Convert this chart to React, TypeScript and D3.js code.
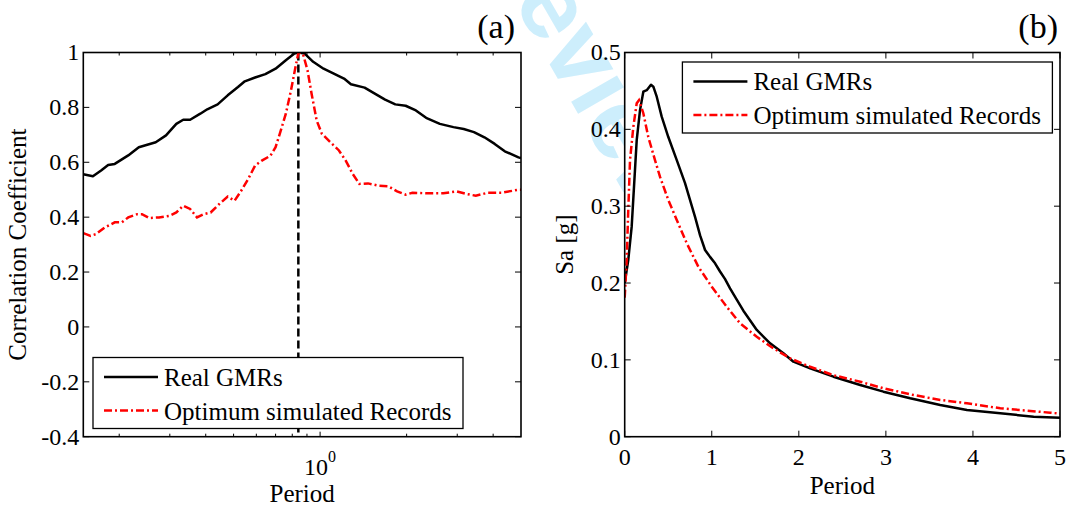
import React from "react";
import * as d3 from "d3";

// ---------- data ----------
// (a) correlation coefficient vs period (log axis)
const leftPeriodReal = [0.15,0.162,0.173,0.183,0.193,0.215,0.234,0.268,0.291,0.316,0.334,0.353,0.383,0.405,0.44,0.477,0.518,0.547,0.594,0.645,0.70,0.76,0.814,0.84,0.884,0.946,1.028,1.116,1.211,1.28,1.428,1.55,1.683,1.827,1.984,2.154,2.338,2.61,2.91,3.16,3.43,3.73,4.05,4.39,4.9,5.0];
const leftCorrReal = [0.556,0.549,0.570,0.590,0.594,0.625,0.655,0.673,0.698,0.740,0.755,0.755,0.777,0.793,0.811,0.844,0.874,0.895,0.909,0.921,0.941,0.972,0.996,1.0,0.996,0.966,0.941,0.923,0.905,0.884,0.872,0.850,0.828,0.811,0.806,0.789,0.762,0.740,0.728,0.721,0.710,0.691,0.667,0.640,0.618,0.615];
const leftPeriodSim = [0.15,0.159,0.166,0.178,0.193,0.204,0.215,0.231,0.240,0.254,0.275,0.299,0.316,0.334,0.353,0.373,0.394,0.416,0.446,0.477,0.504,0.532,0.562,0.594,0.627,0.672,0.700,0.730,0.760,0.792,0.821,0.839,0.855,0.872,0.904,0.934,0.973,1.014,1.086,1.163,1.228,1.298,1.37,1.468,1.594,1.73,1.853,1.984,2.096,2.338,2.683,2.99,3.25,3.48,3.83,4.28,4.9,5.0];
const leftCorrSim = [0.342,0.332,0.338,0.362,0.381,0.381,0.399,0.411,0.411,0.397,0.399,0.405,0.417,0.442,0.430,0.399,0.411,0.417,0.448,0.475,0.460,0.497,0.539,0.588,0.606,0.624,0.655,0.716,0.777,0.862,0.947,0.995,1.0,0.995,0.935,0.850,0.752,0.704,0.673,0.643,0.606,0.558,0.521,0.523,0.515,0.512,0.494,0.482,0.489,0.487,0.487,0.494,0.484,0.478,0.489,0.489,0.500,0.500];
const targetPeriod = 0.84;

// (b) spectral acceleration vs period
const rightPeriodReal = [0,0.041,0.080,0.118,0.138,0.176,0.214,0.253,0.302,0.329,0.368,0.425,0.501,0.598,0.693,0.808,0.866,0.923,0.980,1.038,1.095,1.153,1.210,1.268,1.363,1.517,1.670,1.823,1.938,2.130,2.398,2.705,2.972,3.279,3.624,3.931,4.314,4.697,5.0];
const rightSaReal = [0.200,0.230,0.273,0.347,0.386,0.425,0.449,0.451,0.458,0.4555,0.4425,0.4165,0.390,0.360,0.330,0.286,0.262,0.243,0.234,0.2257,0.215,0.205,0.193,0.182,0.164,0.1389,0.1216,0.1085,0.0976,0.0890,0.0781,0.0673,0.0586,0.0500,0.0413,0.0347,0.0305,0.0260,0.0245];
const rightPeriodSim = [0,0.023,0.041,0.061,0.099,0.138,0.164,0.214,0.271,0.348,0.406,0.501,0.598,0.713,0.846,1.0,1.172,1.325,1.517,1.708,1.900,2.130,2.398,2.705,2.972,3.317,3.624,3.931,4.314,4.889,5.0];
const rightSaSim = [0.181,0.230,0.295,0.360,0.403,0.434,0.438,0.421,0.390,0.360,0.338,0.308,0.282,0.2517,0.2212,0.1952,0.169,0.1476,0.130,0.115,0.102,0.091,0.080,0.0716,0.063,0.0543,0.0478,0.0435,0.037,0.0312,0.030];

const leftYTicks = [-0.4,-0.2,0,0.2,0.4,0.6,0.8,1];
const leftXMajor = [1];
const leftXMinor = [0.2,0.3,0.4,0.5,0.6,0.7,0.8,0.9,2,3,4];
const rightXTicks = [0,1,2,3,4,5];
const rightYTicks = [0,0.1,0.2,0.3,0.4,0.5];
const seriesNames = ["Real GMRs", "Optimum simulated Records"];

const FONT = "'Liberation Serif', 'Times New Roman', serif";
const RED = "#ff0000";
const DASHDOT = "8,3,2,3";
const LW = 2.5;

function zip(xs: number[], ys: number[]) {
  return xs.map((x, i) => [x, ys[i]] as [number, number]);
}

function fmt(v: number) {
  if (Math.abs(v) < 1e-9) return "0";
  return String(+v.toFixed(1));
}

export default function App() {
  const W = 1078, H = 508;
  const top = 52.5, bottom = 436.7;

  const xL = d3.scaleLog().domain([0.15, 5]).range([83.3, 521]);
  const yL = d3.scaleLinear().domain([-0.4, 1]).range([bottom, top]);
  const xR = d3.scaleLinear().domain([0, 5]).range([624.7, 1060]);
  const yR = d3.scaleLinear().domain([0, 0.5]).range([bottom, top]);

  const lineL = d3.line<[number, number]>().x(d => xL(d[0])).y(d => yL(d[1]));
  const lineR = d3.line<[number, number]>().x(d => xR(d[0])).y(d => yR(d[1]));

  const [l0, l1] = xL.range();
  const [r0, r1] = xR.range();
  const TK = 6, TKm = 3;

  const legend = (x0: number, y0: number) => (
    <g>
      <rect x={x0} y={y0} width={370} height={71} fill="#fff" stroke="#000" strokeWidth={1.3} />
      <line x1={x0 + 11} x2={x0 + 65} y1={y0 + 19.5} y2={y0 + 19.5} stroke="#000" strokeWidth={LW} />
      <text x={x0 + 71} y={y0 + 28} fontSize={25} fontFamily={FONT}>{seriesNames[0]}</text>
      <line x1={x0 + 11} x2={x0 + 65} y1={y0 + 53} y2={y0 + 53} stroke={RED} strokeWidth={LW} strokeDasharray={DASHDOT} />
      <text x={x0 + 71} y={y0 + 62} fontSize={25} fontFamily={FONT}>{seriesNames[1]}</text>
    </g>
  );

  return (
    <svg width={W} height={H} style={{ position: "absolute", left: 0, top: 0 }} fontFamily={FONT}>
      <defs>
        <clipPath id="clipL"><rect x={l0} y={top} width={l1 - l0} height={bottom - top} /></clipPath>
        <clipPath id="clipR"><rect x={r0} y={top} width={r1 - r0} height={bottom - top} /></clipPath>
        <clipPath id="clipPage"><rect x={0} y={0} width={W} height={H} /></clipPath>
      </defs>
      <rect width={W} height={H} fill="#fff" />

      {/* watermark */}
      <g clipPath="url(#clipPage)">
        <text transform="translate(476,-63) rotate(60)" fontFamily="'Liberation Sans', Arial, sans-serif"
          fontWeight="bold" fontSize={100} fill="#cdeefc">Review</text>
      </g>

      {/* ---------- panel (a) ---------- */}
      <rect x={l0} y={top} width={l1 - l0} height={bottom - top} fill="#fff" />
      <g clipPath="url(#clipL)">
        <line x1={xL(targetPeriod)} x2={xL(targetPeriod)} y1={top} y2={bottom} stroke="#000" strokeWidth={LW} strokeDasharray="8,4" />
        <path d={lineL(zip(leftPeriodReal, leftCorrReal)) || ""} fill="none" stroke="#000" strokeWidth={LW} strokeLinejoin="round" />
        <path d={lineL(zip(leftPeriodSim, leftCorrSim)) || ""} fill="none" stroke={RED} strokeWidth={LW} strokeDasharray={DASHDOT} />
      </g>
      {leftYTicks.map(v => (
        <g key={"ly" + v}>
          <line x1={l0} x2={l0 + TK} y1={yL(v)} y2={yL(v)} stroke="#000" strokeWidth={1} />
          <line x1={l1} x2={l1 - TK} y1={yL(v)} y2={yL(v)} stroke="#000" strokeWidth={1} />
          <text x={l0 - 4} y={yL(v)} dy="0.33em" textAnchor="end" fontSize={24}>{fmt(v)}</text>
        </g>
      ))}
      {leftXMinor.map(v => (
        <g key={"lxm" + v}>
          <line x1={xL(v)} x2={xL(v)} y1={bottom} y2={bottom - TKm} stroke="#000" strokeWidth={1} />
          <line x1={xL(v)} x2={xL(v)} y1={top} y2={top + TKm} stroke="#000" strokeWidth={1} />
        </g>
      ))}
      {leftXMajor.map(v => (
        <g key={"lx" + v}>
          <line x1={xL(v)} x2={xL(v)} y1={bottom} y2={bottom - 5} stroke="#000" strokeWidth={1} />
          <line x1={xL(v)} x2={xL(v)} y1={top} y2={top + 5} stroke="#000" strokeWidth={1} />
          <text x={xL(v) - 4} y={475} textAnchor="middle" fontSize={24}>10</text>
          <text x={xL(v) + 12} y={462} textAnchor="middle" fontSize={16}>0</text>
        </g>
      ))}
      <rect x={l0} y={top} width={l1 - l0} height={bottom - top} fill="none" stroke="#000" strokeWidth={1.6} />
      {legend(93, 357.5)}
      <text x={(l0 + l1) / 2} y={501.5} textAnchor="middle" fontSize={25}>Period</text>
      <text transform={`translate(25.5,${(top + bottom) / 2}) rotate(-90)`} textAnchor="middle" fontSize={25}>Correlation Coefficient</text>
      <text x={515} y={38} textAnchor="end" fontSize={34}>(a)</text>

      {/* ---------- panel (b) ---------- */}
      <rect x={r0} y={top} width={r1 - r0} height={bottom - top} fill="#fff" />
      <g clipPath="url(#clipR)">
        <path d={lineR(zip(rightPeriodReal, rightSaReal)) || ""} fill="none" stroke="#000" strokeWidth={LW} strokeLinejoin="round" />
        <path d={lineR(zip(rightPeriodSim, rightSaSim)) || ""} fill="none" stroke={RED} strokeWidth={LW} strokeDasharray={DASHDOT} />
      </g>
      {rightYTicks.map(v => (
        <g key={"ry" + v}>
          <line x1={r0} x2={r0 + TK} y1={yR(v)} y2={yR(v)} stroke="#000" strokeWidth={1} />
          <line x1={r1} x2={r1 - TK} y1={yR(v)} y2={yR(v)} stroke="#000" strokeWidth={1} />
          <text x={r0 - 4} y={yR(v)} dy="0.33em" textAnchor="end" fontSize={24}>{fmt(v)}</text>
        </g>
      ))}
      {rightXTicks.map(v => (
        <g key={"rx" + v}>
          <line x1={xR(v)} x2={xR(v)} y1={bottom} y2={bottom - TK} stroke="#000" strokeWidth={1} />
          <line x1={xR(v)} x2={xR(v)} y1={top} y2={top + TK} stroke="#000" strokeWidth={1} />
          <text x={xR(v)} y={465} textAnchor="middle" fontSize={24}>{fmt(v)}</text>
        </g>
      ))}
      <rect x={r0} y={top} width={r1 - r0} height={bottom - top} fill="none" stroke="#000" strokeWidth={1.6} />
      {legend(682.4, 62)}
      <text x={(r0 + r1) / 2} y={493.5} textAnchor="middle" fontSize={25}>Period</text>
      <text transform={`translate(572.5,${(top + bottom) / 2}) rotate(-90)`} textAnchor="middle" fontSize={25}>Sa [g]</text>
      <text x={1058} y={38} textAnchor="end" fontSize={34}>(b)</text>
    </svg>
  );
}
